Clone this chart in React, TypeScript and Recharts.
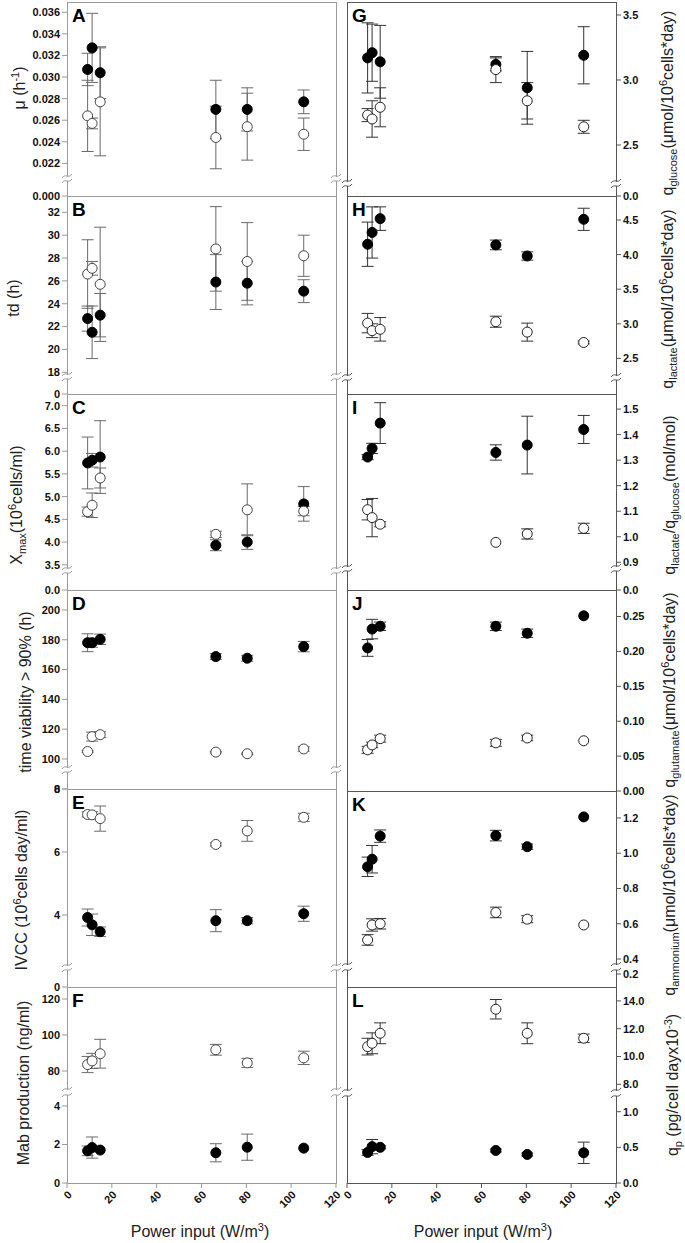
import React from 'react';
import { ScatterChart, Scatter, XAxis, YAxis, ErrorBar } from 'recharts';

const FONT = 'Arial, "Liberation Sans", Helvetica, sans-serif';

// power input (W/m3), same for every panel
const powerInput = [9.2, 11.2, 14.8, 66.4, 80.4, 105.6];
const xTicks = [0, 20, 40, 60, 80, 100, 120];

// A: mu (h-1)
const muFilled = [0.0307, 0.0327, 0.0304, 0.027, 0.027, 0.0277];
const muFilledErr = [0.0015, 0.0032, 0.0024, 0.0027, 0.002, 0.0011];
const muOpen = [0.0264, 0.0257, 0.0277, 0.0244, 0.0254, 0.0247];
const muOpenErr = [0.0033, 0.0005, 0.005, 0.0029, 0.0031, 0.0015];

// B: td (h)
const tdFilled = [22.7, 21.5, 23.0, 25.9, 25.8, 25.1];
const tdFilledErr = [1.1, 2.3, 1.9, 2.4, 1.9, 1.0];
const tdOpen = [26.6, 27.1, 25.7, 28.8, 27.7, 28.2];
const tdOpenErr = [3.0, 0.6, 5.0, 3.7, 3.4, 1.8];

// C: Xmax
const xmaxFilled = [5.74, 5.8, 5.87, 3.93, 4.0, 4.84];
const xmaxFilledErr = [0.57, 0.15, 0.8, 0.12, 0.16, 0.38];
const xmaxOpen = [4.67, 4.81, 5.41, 4.17, 4.71, 4.68];
const xmaxOpenErr = [0.1, 0.27, 0.22, 0.07, 0.57, 0.1];

// D: time viability > 90%
const viabFilled = [178, 178, 180.3, 168.7, 167.6, 175.4];
const viabFilledErr = [6, 3, 3.5, 2, 2, 3.5];
const viabOpen = [105, 115, 116.3, 104.6, 103.5, 106.7];
const viabOpenErr = [0.5, 3, 2, 0.5, 0.5, 1.5];

// E: IVCC
const ivccFilled = [3.92, 3.69, 3.47, 3.82, 3.82, 4.04];
const ivccFilledErr = [0.27, 0.34, 0.15, 0.35, 0.1, 0.24];
const ivccOpen = [7.19, 7.18, 7.06, 6.24, 6.67, 7.1];
const ivccOpenErr = [0.08, 0.1, 0.4, 0.05, 0.33, 0.13];

// F: Mab production
const mabFilled = [1.67, 1.84, 1.71, 1.57, 1.86, 1.81];
const mabFilledErr = [0.25, 0.55, 0, 0.47, 0.68, 0];
const mabOpen = [83.6, 85.6, 89.6, 91.8, 84.5, 87.3];
const mabOpenErr = [4.5, 4.2, 8.0, 3.0, 2.5, 3.7];

// G: q glucose
const qGlcFilled = [3.17, 3.21, 3.14, 3.12, 2.94, 3.19];
const qGlcFilledErr = [0.27, 0.22, 0.28, 0.05, 0.28, 0.22];
const qGlcOpen = [2.73, 2.7, 2.79, 3.08, 2.84, 2.64];
const qGlcOpenErr = [0.05, 0.14, 0.15, 0.1, 0.14, 0.05];

// H: q lactate
const qLacFilled = [4.15, 4.32, 4.52, 4.14, 3.98, 4.51];
const qLacFilledErr = [0.32, 0.37, 0.17, 0.07, 0.06, 0.16];
const qLacOpen = [3.01, 2.9, 2.92, 3.03, 2.88, 2.73];
const qLacOpenErr = [0.14, 0.1, 0.17, 0.08, 0.13, 0.02];

// I: q lactate / q glucose
const ratioFilled = [1.312, 1.346, 1.445, 1.33, 1.359, 1.42];
const ratioFilledErr = [0.01, 0.02, 0.08, 0.03, 0.113, 0.055];
const ratioOpen = [1.106, 1.075, 1.049, 0.978, 1.011, 1.033];
const ratioOpenErr = [0.04, 0.075, 0.01, 0, 0.02, 0.02];

// J: q glutamate
const qGluFilled = [0.205, 0.232, 0.236, 0.236, 0.226, 0.251];
const qGluFilledErr = [0.012, 0.014, 0.006, 0.006, 0.006, 0];
const qGluOpen = [0.059, 0.066, 0.075, 0.069, 0.076, 0.072];
const qGluOpenErr = [0.005, 0.004, 0.005, 0.005, 0.004, 0];

// K: q ammonium
const qAmmFilled = [0.923, 0.966, 1.097, 1.1, 1.037, 1.206];
const qAmmFilledErr = [0.055, 0.078, 0.035, 0.03, 0.015, 0];
const qAmmOpen = [0.508, 0.593, 0.6, 0.664, 0.626, 0.593];
const qAmmOpenErr = [0.03, 0.035, 0.03, 0.03, 0.02, 0];

// L: qp
const qpFilled = [0.428, 0.51, 0.5, 0.456, 0.4, 0.423];
const qpFilledErr = [0.04, 0.1, 0.02, 0.02, 0.02, 0.15];
const qpOpen = [10.71, 10.95, 11.67, 13.4, 11.67, 11.31];
const qpOpenErr = [0.6, 0.75, 0.75, 0.7, 0.75, 0.3];

const PLOT_W = 269;

type Sec = { top: number; bottom: number; domain: [number, number]; ticks: number[]; dec: number };
type Panel = {
  letter: string;
  col: 0 | 1;
  label: React.ReactNode;
  labelX: number;
  labelY: number;
  filled: number[];
  filledErr: number[];
  open: number[];
  openErr: number[];
  sections: Sec[];
  xLabels?: boolean;
};

const Sup = ({ children }: { children: React.ReactNode }) => (
  <sup style={{ fontSize: 11, lineHeight: 0 }}>{children}</sup>
);
const Sub = ({ children }: { children: React.ReactNode }) => (
  <sub style={{ fontSize: 11, lineHeight: 0 }}>{children}</sub>
);

const panels: Panel[] = [
  {
    letter: 'A', col: 0, labelX: 20, labelY: 88,
    label: <>μ (h<Sup>-1</Sup>)</>,
    filled: muFilled, filledErr: muFilledErr, open: muOpen, openErr: muOpenErr,
    sections: [
      { top: 2, bottom: 176, domain: [0.02083, 0.03695], ticks: [0.022, 0.024, 0.026, 0.028, 0.03, 0.032, 0.034, 0.036], dec: 3 },
      { top: 181, bottom: 196, domain: [0, 0.0014], ticks: [0], dec: 3 },
    ],
  },
  {
    letter: 'B', col: 0, labelX: 14, labelY: 298,
    label: <>td (h)</>,
    filled: tdFilled, filledErr: tdFilledErr, open: tdOpen, openErr: tdOpenErr,
    sections: [
      { top: 196, bottom: 374, domain: [17.85, 33.43], ticks: [18, 20, 22, 24, 26, 28, 30, 32], dec: 0 },
      { top: 379, bottom: 394, domain: [0, 1.3], ticks: [0], dec: 0 },
    ],
  },
  {
    letter: 'C', col: 0, labelX: 17, labelY: 505,
    label: <>X<Sub>max</Sub>(10<Sup>6</Sup>cells/ml)</>,
    filled: xmaxFilled, filledErr: xmaxFilledErr, open: xmaxOpen, openErr: xmaxOpenErr,
    sections: [
      { top: 394, bottom: 568, domain: [3.43, 7.257], ticks: [3.5, 4, 4.5, 5, 5.5, 6, 6.5, 7], dec: 1 },
      { top: 573, bottom: 590, domain: [0, 0.37], ticks: [0], dec: 1 },
    ],
  },
  {
    letter: 'D', col: 0, labelX: 26, labelY: 692,
    label: <>time viability &gt; 90% (h)</>,
    filled: viabFilled, filledErr: viabFilledErr, open: viabOpen, openErr: viabOpenErr,
    sections: [
      { top: 590, bottom: 767, domain: [94.6, 213.4], ticks: [100, 120, 140, 160, 180, 200], dec: 0 },
      { top: 772, bottom: 789, domain: [0, 11.4], ticks: [0], dec: 0 },
    ],
  },
  {
    letter: 'E', col: 0, labelX: 22, labelY: 890,
    label: <>IVCC (10<Sup>6</Sup>cells day/ml)</>,
    filled: ivccFilled, filledErr: ivccFilledErr, open: ivccOpen, openErr: ivccOpenErr,
    sections: [
      { top: 789, bottom: 965, domain: [2.413, 8], ticks: [4, 6, 8], dec: 0 },
      { top: 970, bottom: 987, domain: [0, 0.54], ticks: [0], dec: 0 },
    ],
  },
  {
    letter: 'F', col: 0, labelX: 24, labelY: 1083, xLabels: true,
    label: <>Mab production (ng/ml)</>,
    filled: mabFilled, filledErr: mabFilledErr, open: mabOpen, openErr: mabOpenErr,
    sections: [
      { top: 987, bottom: 1089, domain: [70, 126.67], ticks: [80, 100, 120], dec: 0 },
      { top: 1095, bottom: 1183, domain: [0, 4.57], ticks: [0, 2, 4], dec: 0 },
    ],
  },
  {
    letter: 'G', col: 1, labelX: 668, labelY: 103,
    label: <>q<Sub>glucose</Sub>(μmol/10<Sup>6</Sup>cells*day)</>,
    filled: qGlcFilled, filledErr: qGlcFilledErr, open: qGlcOpen, openErr: qGlcOpenErr,
    sections: [
      { top: 2, bottom: 181, domain: [2.223, 3.6], ticks: [2.5, 3, 3.5], dec: 1 },
      { top: 186, bottom: 196, domain: [0, 0.08], ticks: [0], dec: 1 },
    ],
  },
  {
    letter: 'H', col: 1, labelX: 668, labelY: 299,
    label: <>q<Sub>lactate</Sub>(μmol/10<Sup>6</Sup>cells*day)</>,
    filled: qLacFilled, filledErr: qLacFilledErr, open: qLacOpen, openErr: qLacOpenErr,
    sections: [
      { top: 196, bottom: 375, domain: [2.26, 4.847], ticks: [2.5, 3, 3.5, 4, 4.5], dec: 1 },
      { top: 380, bottom: 394, domain: [0, 0.2], ticks: [], dec: 1 },
    ],
  },
  {
    letter: 'I', col: 1, labelX: 670, labelY: 495,
    label: <>q<Sub>lactate</Sub>/q<Sub>glucose</Sub>(mol/mol)</>,
    filled: ratioFilled, filledErr: ratioFilledErr, open: ratioOpen, openErr: ratioOpenErr,
    sections: [
      { top: 394, bottom: 566, domain: [0.8855, 1.559], ticks: [0.9, 1, 1.1, 1.2, 1.3, 1.4, 1.5], dec: 1 },
      { top: 571, bottom: 590, domain: [0, 0.074], ticks: [0], dec: 1 },
    ],
  },
  {
    letter: 'J', col: 1, labelX: 670, labelY: 690,
    label: <>q<Sub>glutamate</Sub>(μmol/10<Sup>6</Sup>cells*day)</>,
    filled: qGluFilled, filledErr: qGluFilledErr, open: qGluOpen, openErr: qGluOpenErr,
    sections: [
      { top: 590, bottom: 791, domain: [0, 0.288], ticks: [0, 0.05, 0.1, 0.15, 0.2, 0.25], dec: 2 },
    ],
  },
  {
    letter: 'K', col: 1, labelX: 670, labelY: 895,
    label: <>q<Sub>ammonium</Sub>(μmol/10<Sup>6</Sup>cells*day)</>,
    filled: qAmmFilled, filledErr: qAmmFilledErr, open: qAmmOpen, openErr: qAmmOpenErr,
    sections: [
      { top: 791, bottom: 964, domain: [0.3716, 1.353], ticks: [0.4, 0.6, 0.8, 1, 1.2], dec: 1 },
      { top: 970, bottom: 987, domain: [0, 0.2615], ticks: [0, 0.2], dec: 1 },
    ],
  },
  {
    letter: 'L', col: 1, labelX: 673, labelY: 1085, xLabels: true,
    label: <>q<Sub>p</Sub> (pg/cell dayx10<Sup>-3</Sup>)</>,
    filled: qpFilled, filledErr: qpFilledErr, open: qpOpen, openErr: qpOpenErr,
    sections: [
      { top: 987, bottom: 1090, domain: [7.59, 15.0], ticks: [8, 10, 12, 14], dec: 1 },
      { top: 1096, bottom: 1183, domain: [0, 1.22], ticks: [0, 0.5, 1], dec: 1 },
    ],
  },
];

const tickStyle = { fontSize: 11, fontWeight: 700, fill: '#111', fontFamily: FONT };

function SectionChart({ p, s, first, last }: { p: Panel; s: Sec; first: boolean; last: boolean }) {
  const left = p.col === 0;
  const x0 = left ? 67 : 347;
  const yW = left ? 60 : 48;
  const h = s.bottom - s.top;
  const showX = last && !!p.xLabels;
  const xH = showX ? 40 : 0;
  const axisCol = left ? '#9a9a9a' : '#555';
  const errCol = left ? '#6a6a6a' : '#333';
  const openStroke = left ? '#444' : '#222';
  const inRange = (v: number) => v >= s.domain[0] && v <= s.domain[1];
  const mk = (vals: number[], errs: number[]) =>
    powerInput.map((x, i) => ({ x, y: vals[i], e: errs[i] })).filter((d) => inRange(d.y));
  const filled = mk(p.filled, p.filledErr);
  const open = mk(p.open, p.openErr);
  const border = `1px solid ${axisCol}`;

  return (
    <>
      <div
        style={{
          position: 'absolute', left: x0, top: s.top, width: PLOT_W + 1, height: h + 1,
          boxSizing: 'border-box', borderLeft: border, borderRight: border,
          borderTop: first ? border : 'none', borderBottom: last ? border : 'none',
        }}
      />
      <div style={{ position: 'absolute', left: left ? x0 - yW : x0 - 8, top: s.top - 8 }}>
        <ScatterChart
          width={yW + PLOT_W + 8}
          height={h + 16 + xH}
          margin={{ top: 8, bottom: 8, left: left ? 0 : 8, right: left ? 8 : 0 }}
        >
          <XAxis
            type="number"
            dataKey="x"
            domain={[0, 120]}
            ticks={xTicks}
            allowDataOverflow
            orientation={last ? 'bottom' : 'top'}
            mirror={!showX}
            height={showX ? xH : 30}
            axisLine={false}
            tick={showX ? { ...tickStyle, angle: -45, textAnchor: 'end' } : false}
            tickLine={{ stroke: axisCol }}
            tickSize={5}
          />
          <YAxis
            type="number"
            dataKey="y"
            domain={s.domain}
            allowDataOverflow
            ticks={s.ticks.length ? s.ticks : undefined}
            tickFormatter={(v: number) => v.toFixed(s.dec)}
            orientation={left ? 'left' : 'right'}
            width={yW}
            axisLine={false}
            tick={s.ticks.length ? tickStyle : false}
            tickLine={s.ticks.length ? { stroke: axisCol } : false}
            tickSize={5}
          />
          <Scatter
            data={filled}
            isAnimationActive={false}
            shape={(q: any) => <circle cx={q.cx} cy={q.cy} r={5} fill="#000" stroke="#000" />}
          >
            <ErrorBar dataKey="e" direction="y" width={6} stroke={errCol} strokeWidth={1} />
          </Scatter>
          <Scatter
            data={open}
            isAnimationActive={false}
            shape={(q: any) => <circle cx={q.cx} cy={q.cy} r={5} fill="#fff" stroke={openStroke} strokeWidth={1} />}
          >
            <ErrorBar dataKey="e" direction="y" width={6} stroke={errCol} strokeWidth={1} />
          </Scatter>
        </ScatterChart>
      </div>
    </>
  );
}

function breakPath(x: number, y: number) {
  return `M ${x - 5} ${y + 2} C ${x - 2} ${y - 3}, ${x + 2} ${y + 3}, ${x + 5} ${y - 2}`;
}

export default function App() {
  const breaks: { d: string; col: string }[] = [];
  panels.forEach((p) => {
    if (p.sections.length < 2) return;
    const x0 = p.col === 0 ? 67 : 347;
    const col = p.col === 0 ? '#9a9a9a' : '#555';
    [x0, x0 + PLOT_W].forEach((x) => {
      breaks.push({ d: breakPath(x, p.sections[0].bottom), col });
      breaks.push({ d: breakPath(x, p.sections[1].top), col });
    });
  });

  return (
    <div
      style={{
        position: 'absolute', left: 0, top: 0, width: 685, height: 1243,
        background: '#fff', fontFamily: FONT, color: '#222', overflow: 'hidden',
      }}
    >
      {panels.map((p) =>
        p.sections.map((s, i) => (
          <SectionChart key={p.letter + i} p={p} s={s} first={i === 0} last={i === p.sections.length - 1} />
        ))
      )}
      <svg width={685} height={1243} style={{ position: 'absolute', left: 0, top: 0, pointerEvents: 'none' }}>
        {breaks.map((b, i) => (
          <path key={i} d={b.d} fill="none" stroke={b.col} strokeWidth={1} />
        ))}
      </svg>
      {panels.map((p) => (
        <div
          key={'l' + p.letter}
          style={{
            position: 'absolute', left: (p.col === 0 ? 67 : 347) + 5, top: p.sections[0].top + 4,
            fontSize: 19, fontWeight: 700, lineHeight: 1, color: '#000',
          }}
        >
          {p.letter}
        </div>
      ))}
      {panels.map((p) => (
        <div
          key={'t' + p.letter}
          style={{
            position: 'absolute', left: p.labelX, top: p.labelY, whiteSpace: 'nowrap',
            fontSize: 16, lineHeight: 1, transform: 'translate(-50%, -50%) rotate(-90deg)',
          }}
        >
          {p.label}
        </div>
      ))}
      {[200, 483].map((cx) => (
        <div
          key={'x' + cx}
          style={{
            position: 'absolute', left: cx, top: 1232, whiteSpace: 'nowrap', fontSize: 16,
            lineHeight: 1, transform: 'translate(-50%, -50%)',
          }}
        >
          Power input (W/m<Sup>3</Sup>)
        </div>
      ))}
    </div>
  );
}
